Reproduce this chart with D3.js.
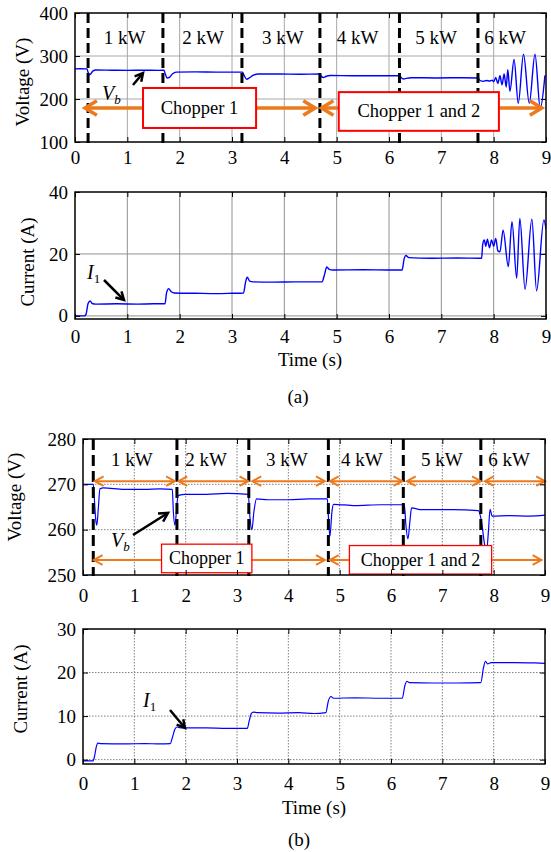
<!DOCTYPE html>
<html><head><meta charset="utf-8">
<script src="https://cdn.jsdelivr.net/npm/d3@7"></script>
<style>
body{margin:0;background:#fff}
svg{display:block}
text{font-family:"Liberation Serif","Times New Roman",serif;fill:#000}
</style></head>
<body><svg id="c" width="551" height="852"></svg>
<script>
// ---------- data ----------
const xTicks = [0,1,2,3,4,5,6,7,8,9];
const voltTicksA = [100,200,300,400];
const currTicksA = [0,20,40];
const voltTicksB = [250,260,270,280];
const currTicksB = [0,10,20,30];
const loadLabels = ["1 kW","2 kW","3 kW","4 kW","5 kW","6 kW"];
const switchTimesA = [0.25,1.68,3.19,4.68,6.2,7.7];
const switchTimesB = [0.2,1.83,3.23,4.78,6.24,7.75];
const labelTimesA = [0.95,2.45,3.97,5.4,6.9,8.22];
const labelTimesB = [0.95,2.4,3.97,5.43,6.99,8.3];

// (a) battery voltage V_b [time s, volts]
const voltageA = [[0,270],[0.1,270.5],[0.23,270],[0.25,262],[0.27,256],[0.3,258],[0.34,265],[0.4,267.5],
 [0.7,267],[1.0,266.5],[1.3,267],[1.6,266.5],[1.7,267],[1.72,260],[1.76,249],[1.8,250],[1.86,258],[1.93,262.5],
 [2.3,263],[2.7,262.5],[3.0,262.5],[3.2,262.5],[3.23,255],[3.28,246],[3.33,249],[3.4,255],[3.5,258],
 [3.9,258],[4.3,257.5],[4.68,258],[4.71,252],[4.75,250],[4.8,253],[4.88,254.5],[5.3,254],[5.8,254],
 [6.2,254],[6.23,250],[6.28,246.5],[6.33,248],[6.42,249.5],[6.9,249],[7.4,249.5],[7.7,249],
 [7.74,243],[7.8,241],[7.86,243],[7.92,242],[7.97,244],[8.0,240],[8.04,250],[8.08,236],[8.12,254],
 [8.16,233],[8.2,258],[8.24,228],[8.27,268],[8.31,218],[8.39,292],[8.47,190],[8.57,304],[8.68,190],
 [8.79,304],[8.89,178],[8.98,255]];
// (a) chopper current I_1 [time s, amps]
const currentA = [[0,0],[0.18,0],[0.21,0.5],[0.25,4],[0.29,4.8],[0.33,4],[0.4,3.8],[0.8,3.9],[1.2,3.8],
 [1.5,3.9],[1.72,3.9],[1.75,7.5],[1.79,8.8],[1.84,7.8],[1.9,7.4],[2.3,7.3],[2.7,7.2],[3.0,7.3],[3.22,7.4],
 [3.26,11],[3.29,12.5],[3.34,11.2],[3.4,11],[3.8,10.9],[4.2,11],[4.72,11],[4.77,13.5],[4.81,15.8],[4.86,15],
 [4.92,14.8],[5.5,14.9],[6.0,14.8],[6.25,14.8],[6.29,18.5],[6.32,19.5],[6.38,18.8],[6.8,18.6],[7.3,18.7],
 [7.77,18.6],[7.79,23],[7.82,24.5],[7.85,22.5],[7.88,24.8],[7.92,22],[7.96,24.5],[8.0,22.5],[8.04,25],
 [8.08,21],[8.12,20.7],[8.18,27.7],[8.28,15.9],[8.35,30.4],[8.44,12.2],[8.5,31.5],[8.6,8.6],[8.73,31.2],
 [8.82,8.1],[8.96,31],[9,28]];
// (b) battery voltage V_b
const voltageB = [[0,270],[0.2,270],[0.22,267],[0.25,262],[0.27,261],[0.3,265],[0.33,269],[0.4,269.2],
 [0.8,268.9],[1.2,268.9],[1.5,269],[1.74,268.9],[1.76,264],[1.79,261],[1.82,264],[1.85,267.5],[2.0,267.8],
 [2.4,267.8],[2.8,268],[3.22,267.8],[3.25,263],[3.29,260],[3.33,264],[3.38,266.8],[3.6,266.6],[4.0,266.6],
 [4.4,266.8],[4.76,266.8],[4.78,263],[4.81,258.5],[4.85,264],[4.88,265.6],[5.3,265.3],[5.8,265.5],
 [6.26,265.5],[6.29,261],[6.33,258],[6.37,262],[6.4,264.8],[6.6,264.4],[7.2,264.4],[7.7,264.2],
 [7.76,262],[7.82,257],[7.86,255],[7.9,260],[7.93,264.5],[7.97,263],[8.3,263.1],[8.7,263],[9,263.2]];
// (b) chopper current I_1
const currentB = [[0,-0.3],[0.19,-0.3],[0.22,0.5],[0.26,3],[0.29,3.8],[0.35,3.7],[0.8,3.6],[1.2,3.7],
 [1.5,3.6],[1.7,3.7],[1.74,5],[1.79,7],[1.83,7.5],[1.9,7.3],[2.4,7.3],[2.8,7.2],[3.2,7.2],[3.24,9],
 [3.28,10.6],[3.32,10.9],[3.4,10.8],[3.8,10.7],[4.2,10.8],[4.5,10.6],[4.73,10.8],[4.78,13.5],[4.83,14.5],
 [4.88,14.1],[5.3,14.2],[5.8,14.1],[6.22,14.1],[6.27,17],[6.31,18],[6.36,17.7],[6.8,17.6],[7.3,17.6],
 [7.75,17.7],[7.8,21],[7.84,22.6],[7.88,22],[7.95,22.3],[8.4,22.3],[8.8,22.2],[9,22.1]];

// ---------- drawing ----------
const svg = d3.select("#c");
const FONT = '"Liberation Serif","Times New Roman",serif';
const ORANGE = "#ec7a1c";
let clipId = 0;

function panel(o){
  const x = d3.scaleLinear().domain([0,9]).range([o.left,o.right]);
  const y = d3.scaleLinear().domain(o.ydom).range([o.bottom,o.top]);
  const g = svg.append("g");
  const gl = g.append("g").attr("stroke",o.gridColor).attr("stroke-width",1).attr("stroke-dasharray",o.gridDash);
  gl.selectAll(".vx").data(xTicks.filter(d=>d>0&&d<9)).join("line")
    .attr("x1",d=>x(d)).attr("x2",d=>x(d)).attr("y1",o.top).attr("y2",o.bottom);
  gl.selectAll(".hy").data(o.yticks.filter(d=>d>o.ydom[0]&&d<o.ydom[1])).join("line")
    .attr("x1",o.left).attr("x2",o.right).attr("y1",d=>y(d)).attr("y2",d=>y(d));
  const id = "clip"+(clipId++);
  svg.append("clipPath").attr("id",id).append("rect")
    .attr("x",o.left).attr("y",o.top).attr("width",o.right-o.left).attr("height",o.bottom-o.top);
  const line = d3.line().x(d=>x(d[0])).y(d=>y(d[1])).curve(d3.curveMonotoneX);
  g.append("path").datum(o.data).attr("clip-path",`url(#${id})`).attr("d",line)
    .attr("fill","none").attr("stroke","#0000ff").attr("stroke-width",o.lw).attr("stroke-linejoin","round");
  const over = svg.append("g");
  const axes = svg.append("g");
  const styleAxis = s => { s.select(".domain").remove(); s.attr("font-family",FONT).attr("font-size",19);
    s.selectAll("line").attr("stroke","#000"); };
  axes.append("g").attr("transform",`translate(0,${o.bottom})`)
    .call(d3.axisBottom(x).tickValues(xTicks).tickSize(-5).tickPadding(o.xPad).tickFormat(d3.format("d"))).call(styleAxis);
  axes.append("g").attr("transform",`translate(0,${o.top})`)
    .call(d3.axisTop(x).tickValues(xTicks).tickSize(-5).tickFormat("")).call(styleAxis);
  axes.append("g").attr("transform",`translate(${o.left},0)`)
    .call(d3.axisLeft(y).tickValues(o.yticks).tickSize(-5).tickPadding(7).tickFormat(d3.format("d"))).call(styleAxis);
  axes.append("g").attr("transform",`translate(${o.right},0)`)
    .call(d3.axisRight(y).tickValues(o.yticks).tickSize(-5).tickFormat("")).call(styleAxis);
  axes.selectAll(".tick text").attr("fill","#000");
  axes.append("rect").attr("x",o.left).attr("y",o.top).attr("width",o.right-o.left).attr("height",o.bottom-o.top)
    .attr("fill","none").attr("stroke","#000").attr("stroke-width",1.5);
  axes.append("text").attr("transform",`translate(${o.ylabX},${o.ylabY}) rotate(-90)`)
    .attr("text-anchor","middle").attr("font-size",19).text(o.ylabel);
  return {x,y,over};
}

function chevron(g, tx, ty, ang, L, spread, color, w){
  const p1 = [tx - L*Math.cos(ang-spread), ty - L*Math.sin(ang-spread)];
  const p2 = [tx - L*Math.cos(ang+spread), ty - L*Math.sin(ang+spread)];
  g.append("path").attr("d",`M${p1[0]},${p1[1]}L${tx},${ty}L${p2[0]},${p2[1]}`)
    .attr("fill","none").attr("stroke",color).attr("stroke-width",w).attr("stroke-linejoin","miter").attr("stroke-linecap","butt");
}
function hArrow(g, xa, xb, yy, color, w, L, spread){
  g.append("line").attr("x1",xa+1).attr("x2",xb-1).attr("y1",yy).attr("y2",yy).attr("stroke",color).attr("stroke-width",w);
  chevron(g, xa, yy, Math.PI, L, spread, color, w);
  chevron(g, xb, yy, 0, L, spread, color, w);
}
function arrow(g, x1, y1, x2, y2, w, L){
  const ang = Math.atan2(y2-y1, x2-x1);
  g.append("line").attr("x1",x1).attr("y1",y1).attr("x2",x2-Math.cos(ang)*2).attr("y2",y2-Math.sin(ang)*2)
    .attr("stroke","#000").attr("stroke-width",w);
  chevron(g, x2, y2, ang, L, 0.5, "#000", w);
}
function box(g, x0, y0, x1, y1, label, fs, sw){
  g.append("rect").attr("x",x0).attr("y",y0).attr("width",x1-x0).attr("height",y1-y0)
    .attr("fill","#fff").attr("stroke","#ff0000").attr("stroke-width",sw);
  g.append("text").attr("x",(x0+x1)/2).attr("y",(y0+y1)/2+6).attr("text-anchor","middle")
    .attr("font-size",fs).text(label);
}
function sub(g, x, y, main, s, italicSub){
  const t = g.append("text").attr("x",x).attr("y",y).attr("font-size",20);
  t.append("tspan").attr("font-style","italic").text(main);
  t.append("tspan").attr("font-size",13).attr("dy",4).attr("font-style",italicSub?"italic":"normal").text(s);
}

// ===== (a) voltage =====
const pA1 = panel({left:75,right:546,top:13,bottom:142,ydom:[100,400],yticks:voltTicksA,data:voltageA,
  gridColor:"#a8a8a8",gridDash:null,lw:1.4,xPad:9,ylabel:"Voltage (V)",ylabX:29,ylabY:82});
{
  const {x,y,over} = pA1;
  over.selectAll(".sw").data(switchTimesA).join("line")
    .attr("x1",d=>x(d)).attr("x2",d=>x(d)).attr("y1",13).attr("y2",143)
    .attr("stroke","#000").attr("stroke-width",3).attr("stroke-dasharray","10,5");
  hArrow(over, x(0.19), x(4.59), y(179), ORANGE, 3.5, 14, 0.55);
  hArrow(over, x(4.71), x(8.92), y(179), ORANGE, 3.5, 14, 0.55);
  box(over, x(1.3), y(225.6), x(3.46), y(132.6), "Chopper 1", 18.5, 2);
  box(over, x(5.04), y(216), x(8.1), y(126), "Chopper 1 and 2", 18.5, 2);
  over.selectAll(".kw").data(loadLabels).join("text")
    .attr("x",(d,i)=>x(labelTimesA[i])).attr("y",44).attr("text-anchor","middle").attr("font-size",19).text(d=>d);
  sub(over, 102, 100, "V", "b", true);
  arrow(over, 133, 85, 143, 73, 2.5, 9);
}

// ===== (a) current =====
const pA2 = panel({left:75,right:546,top:192,bottom:319,ydom:[-1,40],yticks:currTicksA,data:currentA,
  gridColor:"#909090",gridDash:null,lw:1.4,xPad:10.5,ylabel:"Current (A)",ylabX:34,ylabY:262});
{
  const {over} = pA2;
  sub(over, 87, 279, "I", "1", false);
  arrow(over, 104, 280, 124, 300, 2.5, 9);
  over.append("text").attr("x",310).attr("y",366).attr("text-anchor","middle").attr("font-size",19).text("Time (s)");
  over.append("text").attr("x",298).attr("y",403).attr("text-anchor","middle").attr("font-size",19).text("(a)");
}

// ===== (b) voltage =====
const pB1 = panel({left:83,right:545,top:439,bottom:575,ydom:[250,280],yticks:voltTicksB,data:voltageB,
  gridColor:"#808080",gridDash:"1.5,1.5",lw:1.2,xPad:13.5,ylabel:"Voltage (V)",ylabX:21,ylabY:497});
{
  const {x,y,over} = pB1;
  over.selectAll(".sw").data(switchTimesB).join("line")
    .attr("x1",d=>x(d)).attr("x2",d=>x(d)).attr("y1",439).attr("y2",576)
    .attr("stroke","#000").attr("stroke-width",3).attr("stroke-dasharray","11,5");
  const topSegs = [[0.23,1.79],[1.86,3.22],[3.3,4.71],[4.81,6.22],[6.31,7.75],[7.83,9.0]];
  topSegs.forEach(s=>hArrow(over, x(s[0]), x(s[1]), y(270.7), ORANGE, 2, 10, 0.5));
  hArrow(over, x(0.21), x(4.71), y(253.3), ORANGE, 2, 10, 0.5);
  hArrow(over, x(4.81), x(8.93), y(253.3), ORANGE, 2, 10, 0.5);
  box(over, x(1.53), y(256.8), x(3.29), y(250.5), "Chopper 1", 18, 1.3);
  box(over, x(5.19), y(256.5), x(7.96), y(250.2), "Chopper 1 and 2", 18, 1.3);
  over.selectAll(".kw").data(loadLabels).join("text")
    .attr("x",(d,i)=>x(labelTimesB[i])).attr("y",466).attr("text-anchor","middle").attr("font-size",19).text(d=>d);
  sub(over, 111, 547, "V", "b", true);
  arrow(over, 133, 535, 168, 513, 2.5, 10);
}

// ===== (b) current =====
const pB2 = panel({left:83,right:545,top:629,bottom:764,ydom:[-1,30],yticks:currTicksB,data:currentB,
  gridColor:"#808080",gridDash:"1.5,1.5",lw:1.2,xPad:12.5,ylabel:"Current (A)",ylabX:27,ylabY:689});
{
  const {over} = pB2;
  sub(over, 143, 707, "I", "1", false);
  arrow(over, 170, 710, 185, 728, 2.5, 9);
  over.append("text").attr("x",314).attr("y",814).attr("text-anchor","middle").attr("font-size",19).text("Time (s)");
  over.append("text").attr("x",299).attr("y",846).attr("text-anchor","middle").attr("font-size",19).text("(b)");
}
</script></body></html>
